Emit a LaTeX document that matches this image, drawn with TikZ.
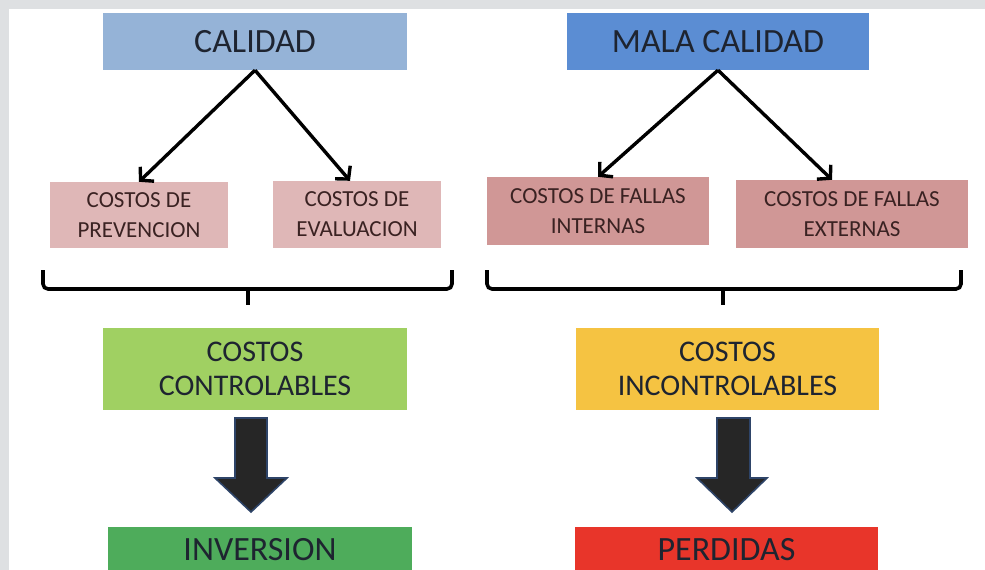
\documentclass[tikz,border=0pt]{standalone}
\usepackage{fontspec}
\setmainfont{Carlito}
\usetikzlibrary{arrows.meta}
\definecolor{bgout}{HTML}{DEE0E2}
\definecolor{calc}{HTML}{95B3D7}
\definecolor{malc}{HTML}{5B8DD3}
\definecolor{pinkl}{HTML}{DFB7B7}
\definecolor{pinkd}{HTML}{D09796}
\definecolor{greenl}{HTML}{A0D062}
\definecolor{yellowc}{HTML}{F5C342}
\definecolor{greend}{HTML}{4EAC5B}
\definecolor{redc}{HTML}{E8352A}
\definecolor{txt}{HTML}{1E2430}
\definecolor{txtb}{HTML}{3A2222}
\definecolor{arrfill}{HTML}{262626}
\definecolor{arredge}{HTML}{2E4468}
\tikzset{
  box/.style={draw=none, inner sep=0pt, align=center, text=txt},
  title/.style={box, font=\fontsize{34}{38}\selectfont},
  smallbox/.style={box, text=txtb, font=\fontsize{23}{30}\selectfont},
  midbox/.style={box, font=\fontsize{30}{34}\selectfont},
  bottombox/.style={box, anchor=north, inner ysep=11pt, font=\fontsize{34}{40}\selectfont},
  conn/.style={line width=3.4pt, -{Straight Barb[length=9pt,width=20pt,line width=3.4pt]}},
  bracel/.style={line width=3.6pt, rounded corners=5pt},
  blockarrow/.style={fill=arrfill, draw=arredge, line width=1.6pt, line join=miter}
}
\begin{document}
\begin{tikzpicture}[x=1pt, y=-1pt]
\useasboundingbox (0,0) rectangle (985,570);
\fill[bgout] (0,0) rectangle (985,570);
\fill[white] (9,9) rectangle (985,570);

% top row
\node[title, fill=calc, minimum width=304pt, minimum height=57pt] (cal) at (255,41.5) {CALIDAD};
\node[title, fill=malc, minimum width=302pt, minimum height=57pt] (mal) at (718,41.5) {MALA CALIDAD};

% second row
\node[smallbox, fill=pinkl, minimum width=178pt, minimum height=66pt] (prev) at (139,215) {COSTOS DE\\PREVENCION};
\node[smallbox, fill=pinkl, minimum width=168pt, minimum height=67pt] (eval) at (357,214.5) {COSTOS DE\\EVALUACION};
\node[smallbox, fill=pinkd, minimum width=222pt, minimum height=68pt] (fint) at (598,211) {COSTOS DE FALLAS\\INTERNAS};
\node[smallbox, fill=pinkd, minimum width=232pt, minimum height=68pt] (fext) at (852,214) {COSTOS DE FALLAS\\EXTERNAS};

% connectors
\draw[conn] (cal.south) -- (prev.north);
\draw[conn] (cal.south) -- ([xshift=-7pt]eval.north);
\draw[conn] (mal.south) -- (fint.north);
\draw[conn] (mal.south) -- ([xshift=-20pt]fext.north);

% braces
\coordinate (bl1) at (43,270);
\coordinate (bl2) at (452,270);
\coordinate (blm) at (248,289);
\coordinate (blt) at (248,305);
\draw[bracel] (bl1) -- (43,289) -- (452,289) -- (bl2);
\draw[line width=3.6pt] (blm) -- (blt);
\coordinate (br1) at (487,270);
\coordinate (br2) at (961,270);
\coordinate (brm) at (723,289);
\coordinate (brt) at (723,305);
\draw[bracel] (br1) -- (487,289) -- (961,289) -- (br2);
\draw[line width=3.6pt] (brm) -- (brt);

% third row
\node[midbox, fill=greenl, minimum width=304pt, minimum height=82pt] (ctrl) at (255,369) {COSTOS\\CONTROLABLES};
\node[midbox, fill=yellowc, minimum width=303pt, minimum height=82pt] (inc) at (727.5,369) {COSTOS\\INCONTROLABLES};

% bottom row
\node[bottombox, fill=greend, minimum width=304pt] (inv) at (260,527) {INVERSION};
\node[bottombox, fill=redc, minimum width=303pt] (perd) at (726.5,527) {PERDIDAS};

% block arrows
\draw[blockarrow] (235,418) -- (267,418) -- (267,478) -- (287,478) -- (251,512) -- (215,478) -- (235,478) -- cycle;
\draw[blockarrow] (717,418) -- (750,418) -- (750,478) -- (767,478) -- (732,512) -- (697,478) -- (717,478) -- cycle;
\end{tikzpicture}
\end{document}
